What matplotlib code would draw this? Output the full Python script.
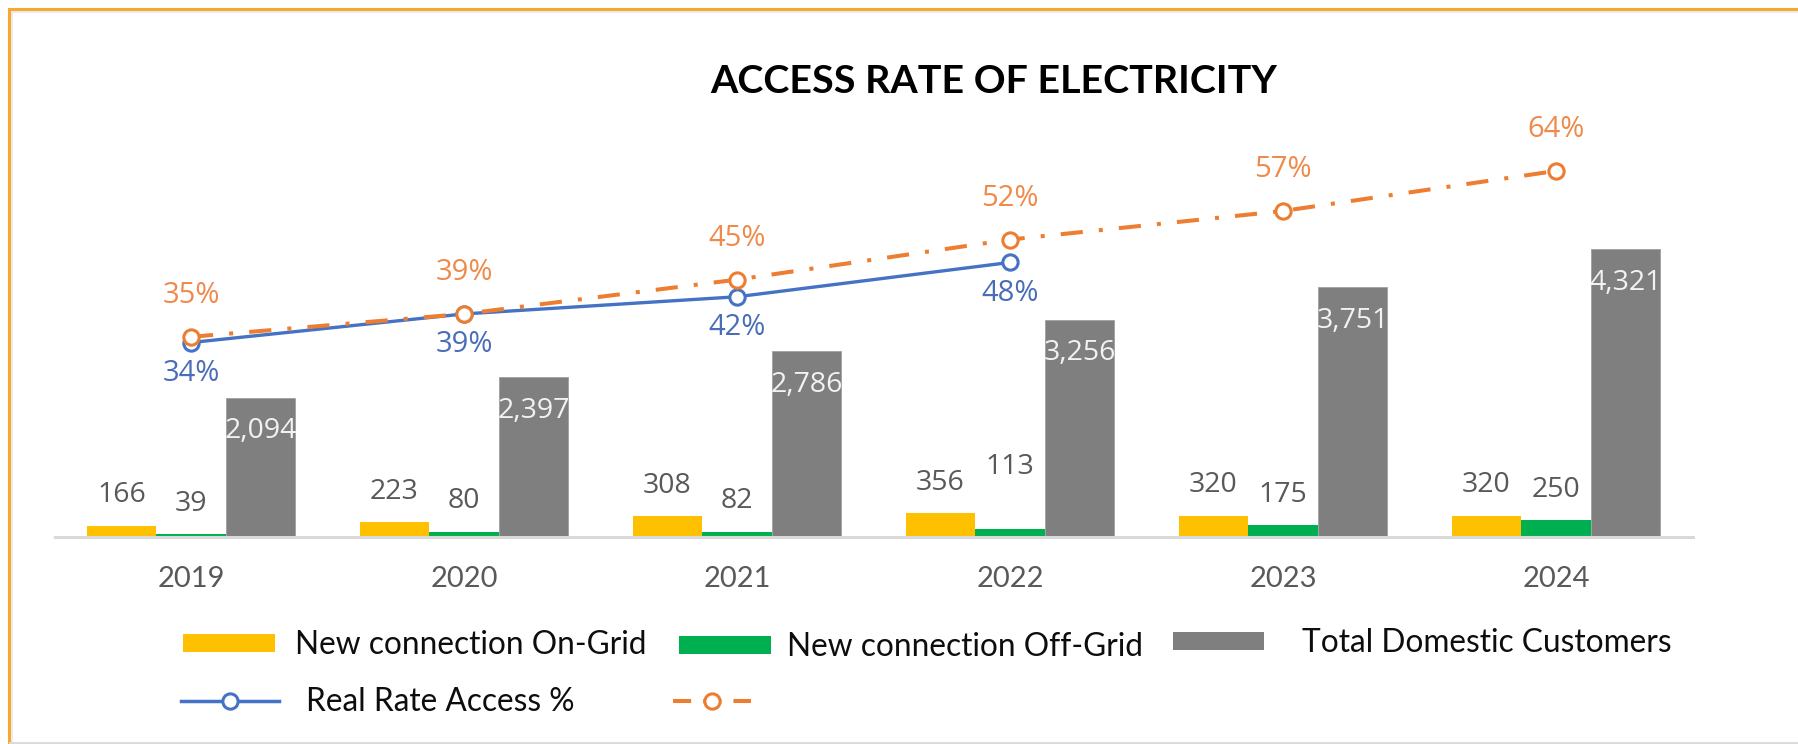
import matplotlib
matplotlib.use('Agg')
import matplotlib.pyplot as plt
from matplotlib.lines import Line2D
from matplotlib.patches import Patch
from matplotlib import font_manager as fm
import numpy as np

# ---------------- data ----------------
years = ['2019', '2020', '2021', '2022', '2023', '2024']
on_grid = [166, 223, 308, 356, 320, 320]
off_grid = [39, 80, 82, 113, 175, 250]
total_customers = [2094, 2397, 2786, 3256, 3751, 4321]
real_rate = [0.34, 0.39, 0.42, 0.48]
target_rate = [0.35, 0.39, 0.45, 0.52, 0.57, 0.64]

title = 'ACCESS RATE OF ELECTRICITY'
legend_labels = ['New connection On-Grid', 'New connection Off-Grid',
                 'Total Domestic Customers', 'Real Rate Access %', '']

# label vertical offsets (points)
off_label_dy = [22, 22, 22, 45, 22, 22]

# ---------------- style ----------------
C_YEL = '#FFC000'
C_GRN = '#00B050'
C_GRY = '#7F7F7F'
C_BLU = '#4472C4'
C_ORG = '#ED7D31'
C_TXT = '#595959'

W, H, DPI = 1798, 744, 100
fig = plt.figure(figsize=(W / DPI, H / DPI), dpi=DPI)
fig.patch.set_facecolor('white')


def fx(px):
    return px / W


def fy(py):
    return 1 - py / H


names = {f.name for f in fm.fontManager.ttflist}
title_font = 'Liberation Sans Narrow' if 'Liberation Sans Narrow' in names else 'Lato'
title_size = 30 if title_font == 'Liberation Sans Narrow' else 28.4
LAB_FONT = 'Open Sans'
AX_FONT = 'Lato'
LAB_SIZE = 20.5
PCT_SIZE = 21

ax = fig.add_axes([fx(54.5), fy(537), fx(1692.5) - fx(54.5), (537 - 100) / H])
x = np.arange(len(years))
bw = 0.255

ax.bar(x - bw, on_grid, bw, color=C_YEL, zorder=2)
ax.bar(x, off_grid, bw, color=C_GRN, zorder=2)
ax.bar(x + bw, total_customers, bw, color=C_GRY, edgecolor='#A0A0A0', linewidth=0.6, zorder=2)

ax.set_xlim(-0.5, 5.5)
ax.set_ylim(0, 6562)
ax.axhline(0, color='#D9D9D9', lw=2.2, zorder=5, clip_on=False)
for s in ax.spines.values():
    s.set_visible(False)
ax.set_yticks([])
ax.set_xticks(x, years)
ax.tick_params(axis='x', length=0, pad=21, labelsize=21, labelcolor=C_TXT)
for t in ax.get_xticklabels():
    t.set_fontfamily(AX_FONT)

for i in range(len(years)):
    ax.annotate(f'{on_grid[i]:,}', (x[i] - bw, on_grid[i]), xytext=(0, 22),
                textcoords='offset points', ha='center', va='center',
                fontsize=LAB_SIZE, color=C_TXT, family=LAB_FONT)
    ax.annotate(f'{off_grid[i]:,}', (x[i], off_grid[i]), xytext=(0, off_label_dy[i]),
                textcoords='offset points', ha='center', va='center',
                fontsize=LAB_SIZE, color=C_TXT, family=LAB_FONT)
    ax.annotate(f'{total_customers[i]:,}', (x[i] + bw, total_customers[i]), xytext=(0, -24),
                textcoords='offset points', ha='center', va='center',
                fontsize=LAB_SIZE, color='#F2F2F2', family=LAB_FONT, zorder=3)

ax2 = ax.twinx()
ax2.set_ylim(0, 0.764)
for s in ax2.spines.values():
    s.set_visible(False)
ax2.set_yticks([])

dash = (0, (5.5, 4, 1, 4))
ax2.plot(x[:len(real_rate)], real_rate, color=C_BLU, lw=2.4, marker='o', ms=11,
         mfc='white', mec=C_BLU, mew=2.2, zorder=3)
ax2.plot(x, target_rate, color=C_ORG, lw=2.9, ls=dash, marker='o', ms=11,
         mfc='white', mec=C_ORG, mew=2.2, zorder=4)

for i, v in enumerate(real_rate):
    ax2.annotate(f'{round(v * 100)}%', (x[i], v), xytext=(0, -22), textcoords='offset points',
                 ha='center', va='center', fontsize=PCT_SIZE, color='#4A6DB8', family=LAB_FONT)
for i, v in enumerate(target_rate):
    ax2.annotate(f'{round(v * 100)}%', (x[i], v), xytext=(0, 29.5), textcoords='offset points',
                 ha='center', va='center', fontsize=PCT_SIZE, color='#EF8A4A', family=LAB_FONT)

# ---------------- title ----------------
fig.text(fx(994), fy(93), title, ha='center', va='baseline', fontsize=title_size,
         fontweight='bold', family=title_font, color='black')

# ---------------- legend ----------------
LFS = 22.8
F = LFS * DPI / 72.0
handles = [
    Patch(facecolor=C_YEL, edgecolor='none'),
    Patch(facecolor=C_GRN, edgecolor='none'),
    Patch(facecolor=C_GRY, edgecolor='none'),
    Line2D([], [], color=C_BLU, lw=2.5, marker='o', ms=11, mfc='white', mec=C_BLU, mew=2.2),
    Line2D([], [], color=C_ORG, lw=2.9, ls=(0, (4.5, 3)), marker='o', ms=11, mfc='white',
           mec=C_ORG, mew=2.2),
]
# (left px, center y px, handle length px, text pad px)
leg_pos = [(183, 645, 92, 20), (679, 647, 92, 16), (1173, 643, 91, 38),
           (181, 702, 98, 27), (673, 702, 78, 0)]
for h, lab, (lx, ly, hl, tp) in zip(handles, legend_labels, leg_pos):
    lg = fig.legend([h], [lab], loc='center left', bbox_to_anchor=(fx(lx), fy(ly)),
                    bbox_transform=fig.transFigure, frameon=False, borderpad=0,
                    borderaxespad=0, handlelength=hl / F, handletextpad=tp / F,
                    handleheight=0.48, prop={'family': AX_FONT, 'size': LFS})
    for t in lg.get_texts():
        t.set_color('#0D0D0D')

# ---------------- frame ----------------
fig.add_artist(Line2D([fx(8.5), fx(8.5)], [fy(8.5), 0], transform=fig.transFigure,
                      color='#F7A833', lw=2.2))
fig.add_artist(Line2D([fx(8.5), 1], [fy(8.5), fy(8.5)], transform=fig.transFigure,
                      color='#F7A833', lw=2.2))
fig.add_artist(Line2D([fx(11.5), fx(11.5)], [fy(11.5), 0], transform=fig.transFigure,
                      color='#E8E8E8', lw=1.2))
fig.add_artist(Line2D([fx(11.5), 1], [fy(11.5), fy(11.5)], transform=fig.transFigure,
                      color='#E8E8E8', lw=1.2))
fig.add_artist(Line2D([fx(10), 1], [fy(742.5), fy(742.5)], transform=fig.transFigure,
                      color='#D9D9D9', lw=2))

fig.savefig('out.png', dpi=DPI)
